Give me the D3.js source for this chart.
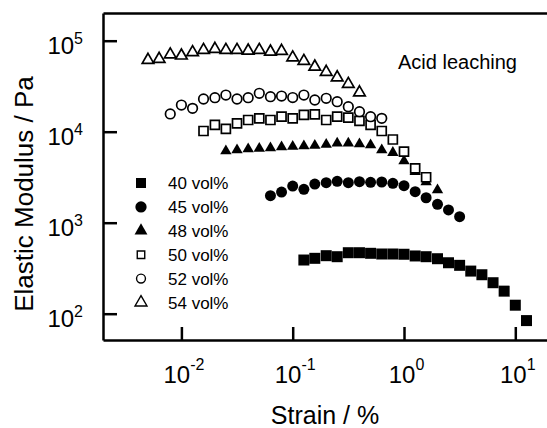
<!DOCTYPE html>
<html>
<head>
<meta charset="utf-8">
<script src="https://cdn.jsdelivr.net/npm/d3@7"></script>
<style>
  body { margin: 0; background: #fff; }
  svg { display: block; font-family: "Liberation Sans", Arial, sans-serif; }
</style>
</head>
<body>
<svg id="chart" width="547" height="428"></svg>
<script>
// strain (%) and elastic modulus (Pa) per solid loading
const strain40 = [0.126, 0.158, 0.2, 0.251, 0.316, 0.398, 0.501, 0.631, 0.794, 1.0, 1.26, 1.58, 2.0, 2.51, 3.16, 3.98, 5.01, 6.31, 7.94, 10.0, 12.6]
const modulus40 = [389, 406, 434, 423, 468, 468, 461, 453, 453, 450, 431, 423, 402, 363, 340, 294, 268, 219, 177, 124, 84]

const strain45 = [0.0631, 0.0794, 0.1, 0.126, 0.158, 0.2, 0.251, 0.316, 0.398, 0.501, 0.631, 0.794, 1.0, 1.26, 1.58, 2.0, 2.51, 3.16]
const modulus45 = [1980, 2170, 2530, 2330, 2660, 2750, 2850, 2750, 2820, 2780, 2800, 2710, 2550, 2190, 1880, 1590, 1380, 1165]

const strain48 = [0.0251, 0.0316, 0.0398, 0.0501, 0.0631, 0.0794, 0.1, 0.126, 0.158, 0.2, 0.251, 0.316, 0.398, 0.501, 0.631, 0.794, 1.0, 1.26, 1.58, 2.0]
const modulus48 = [6140, 6300, 6460, 6540, 6620, 6790, 6880, 6970, 7050, 7230, 7460, 7460, 7330, 7140, 6300, 5880, 4760, 3630, 2800, 2290]

const strain50 = [0.0158, 0.02, 0.0251, 0.0316, 0.0398, 0.0501, 0.0631, 0.0794, 0.1, 0.126, 0.158, 0.2, 0.251, 0.316, 0.398, 0.501, 0.631, 0.794, 1.0, 1.26, 1.58]
const modulus50 = [10180, 11860, 10720, 12370, 13450, 14030, 13450, 14620, 14030, 15270, 15530, 13450, 14620, 14250, 13120, 11860, 10180, 8210, 6030, 3960, 3160]

const strain52 = [0.00794, 0.01, 0.0126, 0.0158, 0.02, 0.0251, 0.0316, 0.0398, 0.0501, 0.0631, 0.0794, 0.1, 0.126, 0.158, 0.2, 0.251, 0.316, 0.398, 0.501, 0.631]
const modulus52 = [15660, 19640, 18070, 22870, 23640, 25300, 22870, 23640, 26420, 24250, 24660, 23750, 25300, 22300, 23280, 21370, 18830, 16590, 14620, 14030]

const strain54 = [0.00501, 0.00631, 0.00794, 0.01, 0.0126, 0.0158, 0.02, 0.0251, 0.0316, 0.0398, 0.0501, 0.0631, 0.0794, 0.1, 0.126, 0.158, 0.2, 0.251, 0.316, 0.398]
const modulus54 = [61380, 62950, 70500, 68450, 74580, 79000, 81050, 79000, 79000, 77620, 79000, 75690, 77080, 65340, 59810, 51790, 45290, 39430, 33420, 26970]

const seriesNames = ['40 vol%', '45 vol%', '48 vol%', '50 vol%', '52 vol%', '54 vol%']
const xTickExp = [-2, -1, 0, 1]
const yTickExp = [2, 3, 4, 5]

const series = [
    {name: seriesNames[0], x: strain40, y: modulus40, shape: d3.symbolSquare, filled: true},
    {name: seriesNames[1], x: strain45, y: modulus45, shape: d3.symbolCircle, filled: true},
    {name: seriesNames[2], x: strain48, y: modulus48, shape: d3.symbolTriangle, filled: true},
    {name: seriesNames[3], x: strain50, y: modulus50, shape: d3.symbolSquare, filled: false},
    {name: seriesNames[4], x: strain52, y: modulus52, shape: d3.symbolCircle, filled: false},
    {name: seriesNames[5], x: strain54, y: modulus54, shape: d3.symbolTriangle, filled: false}
]

// marker areas, plot vs legend
function markerSize(s, legend){
    if (s.shape === d3.symbolSquare) return s.filled ? (legend ? 100 : 121) : (legend ? 56 : 81)
    if (s.shape === d3.symbolCircle) return s.filled ? (legend ? 100 : 95) : (legend ? 62 : 72)
    return s.filled ? (legend ? 72 : 56) : (legend ? 62 : 58)
}

const svg = d3.select('#chart')
const plotLeft = 103, plotRight = 547, plotTop = 13, plotBottom = 340

const x = d3.scaleLog().domain([10 ** -2.7044, 10 ** 1.2848]).range([plotLeft, plotRight])
const y = d3.scaleLog().domain([10 ** 1.711, 10 ** 5.3044]).range([plotBottom, plotTop])

const axisStroke = 2.5

// x axis (ticks inside)
const gx = svg.append('g').attr('transform', `translate(0,${plotBottom})`)
    .call(d3.axisBottom(x).tickValues(xTickExp.map(e => 10 ** e)).tickSize(-13).tickSizeOuter(0).tickFormat(''))
gx.select('.domain').attr('stroke-width', axisStroke)
gx.selectAll('.tick line').attr('stroke-width', axisStroke)
gx.selectAll('.tick').append('text')
    .attr('x', 2).attr('y', 43)
    .attr('text-anchor', 'middle')
    .attr('fill', '#000')
    .style('font-size', '24px')
    .each(function(d, i){
        const t = d3.select(this)
        t.append('tspan').text('10')
        t.append('tspan').attr('dy', -13).style('font-size', '16px').text(xTickExp[i])
    })

// top line
const gt = svg.append('g').attr('transform', `translate(0,${plotTop})`)
    .call(d3.axisTop(x).tickValues([]).tickSizeOuter(0))
gt.select('.domain').attr('stroke-width', axisStroke)

// y axis (ticks inside)
const gy = svg.append('g').attr('transform', `translate(${plotLeft},0)`)
    .call(d3.axisLeft(y).tickValues(yTickExp.map(e => 10 ** e)).tickSize(-14).tickSizeOuter(0).tickFormat(''))
gy.select('.domain').attr('stroke-width', axisStroke)
gy.selectAll('.tick line').attr('stroke-width', axisStroke)
gy.selectAll('.tick').append('text')
    .attr('x', -20).attr('y', 13)
    .attr('text-anchor', 'end')
    .attr('fill', '#000')
    .style('font-size', '24px')
    .each(function(d, i){
        const t = d3.select(this)
        t.append('tspan').text('10')
        t.append('tspan').attr('dy', -10).style('font-size', '16px').text(yTickExp[i])
    })

// axis titles
svg.append('text')
    .attr('x', 325).attr('y', 424)
    .attr('text-anchor', 'middle')
    .style('font-size', '25px')
    .text('Strain / %')

svg.append('text')
    .attr('transform', 'translate(33,194) rotate(-90)')
    .attr('text-anchor', 'middle')
    .style('font-size', '26px')
    .text('Elastic Modulus / Pa')

svg.append('text')
    .attr('x', 398).attr('y', 69)
    .style('font-size', '20px')
    .text('Acid leaching')

// data markers
series.forEach(s => {
    const sym = d3.symbol().type(s.shape).size(markerSize(s, false))
    svg.append('g').selectAll('path')
        .data(s.x.map((v, i) => [v, s.y[i]]))
        .join('path')
        .attr('transform', d => `translate(${x(d[0])},${y(d[1])})`)
        .attr('d', sym)
        .attr('fill', s.filled ? '#000' : '#fff')
        .attr('stroke', '#000')
        .attr('stroke-width', s.filled ? 0 : 1.7)
})

// legend
const legend = svg.append('g').attr('transform', 'translate(141,183)')
series.forEach((s, i) => {
    const row = legend.append('g').attr('transform', `translate(0,${i * 23.9})`)
    row.append('path')
        .attr('d', d3.symbol().type(s.shape).size(markerSize(s, true)))
        .attr('fill', s.filled ? '#000' : '#fff')
        .attr('stroke', '#000')
        .attr('stroke-width', s.filled ? 0 : 1.4)
    row.append('text')
        .attr('x', 27).attr('y', 6)
        .style('font-size', '17px')
        .text(s.name)
})
</script>
</body>
</html>
